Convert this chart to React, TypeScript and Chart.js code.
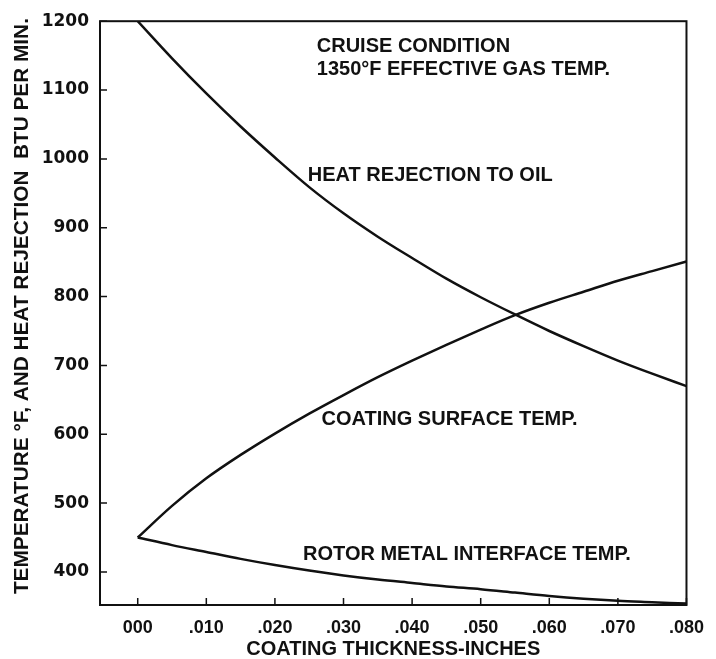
import React, { useEffect, useRef } from "react";
import { Chart, registerables } from "chart.js";

Chart.register(...registerables);

// Coating thickness (inches)
const thickness = [0, 0.005, 0.01, 0.015, 0.02, 0.025, 0.03, 0.035, 0.04, 0.045, 0.05, 0.055, 0.06, 0.065, 0.07, 0.075, 0.08];
// Heat rejection to oil, BTU per min
const heatRejection = [1200, 1146, 1095, 1047, 1002, 959, 921, 887, 856, 826, 799, 774, 750, 728, 707, 688, 670];
// Coating surface temperature, °F
const coatingSurface = [450, 496, 536, 570, 601, 630, 657, 683, 707, 730, 752, 773, 791, 807, 823, 837, 851];
// Rotor metal interface temperature, °F
const rotorInterface = [450, 439, 429, 419, 410, 402, 395, 389, 384, 379, 375, 370, 365, 361, 358, 356, 354];

const xTickValues = [0, 0.01, 0.02, 0.03, 0.04, 0.05, 0.06, 0.07, 0.08];
const xTickLabels = ["000", ".010", ".020", ".030", ".040", ".050", ".060", ".070", ".080"];
const yTickValues = [400, 500, 600, 700, 800, 900, 1000, 1100, 1200];

const noteLines = [
  "CRUISE CONDITION",
  "1350°F EFFECTIVE GAS TEMP.",
  "HEAT REJECTION TO OIL",
  "COATING SURFACE TEMP.",
  "ROTOR METAL INTERFACE TEMP.",
];

const xTitle = "COATING THICKNESS-INCHES";
const yTitle = "TEMPERATURE °F, AND HEAT REJECTION  BTU PER MIN.";

const INK = "#111111";
const TEXT_FONT = "'Liberation Sans', Arial, sans-serif";

const framePlugin = {
  id: "frameAndTicks",
  afterDraw(chart: any) {
    const { ctx, chartArea } = chart;
    const xs = chart.scales.x;
    const ys = chart.scales.y;
    ctx.save();
    ctx.strokeStyle = INK;
    ctx.lineWidth = 2;
    ctx.strokeRect(chartArea.left, chartArea.top, chartArea.right - chartArea.left, chartArea.bottom - chartArea.top);
    ctx.lineWidth = 1.5;
    ctx.beginPath();
    for (const v of xTickValues) {
      const px = xs.getPixelForValue(v);
      ctx.moveTo(px, chartArea.bottom);
      ctx.lineTo(px, chartArea.bottom - 7);
    }
    for (const v of yTickValues) {
      const py = ys.getPixelForValue(v);
      ctx.moveTo(chartArea.left, py);
      ctx.lineTo(chartArea.left + 7, py);
    }
    ctx.stroke();

    // vertical axis title
    ctx.fillStyle = INK;
    ctx.font = `bold 20.8px ${TEXT_FONT}`;
    ctx.textAlign = "center";
    ctx.textBaseline = "middle";
    ctx.translate(22, (chartArea.top + chartArea.bottom) / 2 - 7);
    ctx.rotate(-Math.PI / 2);
    ctx.fillText(yTitle, 0, 0);
    ctx.restore();
  },
};

const notesPlugin = {
  id: "notes",
  afterDraw(chart: any) {
    const { ctx } = chart;
    const xs = chart.scales.x;
    const ys = chart.scales.y;
    // anchors in data coordinates: [x, y]
    const anchors: [number, number][] = [
      [0.0261, 1155],
      [0.0261, 1122],
      [0.0248, 968],
      [0.0268, 613],
      [0.0241, 418],
    ];
    ctx.save();
    ctx.fillStyle = INK;
    ctx.font = `bold 20px ${TEXT_FONT}`;
    ctx.textAlign = "left";
    ctx.textBaseline = "alphabetic";
    noteLines.forEach((t, i) => {
      const [ax, ay] = anchors[i];
      ctx.fillText(t, xs.getPixelForValue(ax), ys.getPixelForValue(ay));
    });
    ctx.restore();
  },
};

function makePoints(ys: number[]) {
  return thickness.map((x, i) => ({ x, y: ys[i] }));
}

export default function App() {
  const ref = useRef<HTMLCanvasElement | null>(null);

  useEffect(() => {
    if (!ref.current) return;
    const lineStyle = {
      borderColor: INK,
      borderWidth: 2.5,
      pointRadius: 0,
      tension: 0.4,
      cubicInterpolationMode: "monotone" as const,
      fill: false,
    };
    const chart = new Chart(ref.current, {
      type: "line",
      data: {
        datasets: [
          { label: "Heat rejection to oil", data: makePoints(heatRejection), ...lineStyle },
          { label: "Coating surface temp.", data: makePoints(coatingSurface), ...lineStyle },
          { label: "Rotor metal interface temp.", data: makePoints(rotorInterface), ...lineStyle },
        ],
      },
      options: {
        animation: false,
        responsive: false,
        devicePixelRatio: 1,
        layout: { padding: { top: 17, right: 29, left: 0, bottom: 0 } },
        plugins: {
          legend: { display: false },
          tooltip: { enabled: false },
        },
        scales: {
          x: {
            type: "linear",
            min: -0.0055,
            max: 0.08,
            grid: { display: false, drawTicks: false },
            border: { display: false },
            afterBuildTicks: (scale: any) => {
              scale.ticks = xTickValues.map((value) => ({ value }));
            },
            afterFit: (scale: any) => {
              scale.height = 54;
            },
            ticks: {
              autoSkip: false,
              maxRotation: 0,
              minRotation: 0,
              padding: 12,
              color: INK,
              font: { family: TEXT_FONT, size: 18, weight: "bold" },
              callback: (_v: any, i: number) => xTickLabels[i],
            },
            title: {
              display: true,
              text: xTitle,
              color: INK,
              padding: 0,
              font: { family: TEXT_FONT, size: 20, weight: "bold", lineHeight: 1 },
            },
          },
          y: {
            type: "linear",
            min: 352,
            max: 1200,
            grid: { display: false, drawTicks: false },
            border: { display: false },
            afterBuildTicks: (scale: any) => {
              scale.ticks = yTickValues.map((value) => ({ value }));
            },
            afterFit: (scale: any) => {
              scale.width = 100;
            },
            ticks: {
              autoSkip: false,
              padding: 11,
              color: INK,
              font: { family: "'DejaVu Sans', sans-serif", size: 17, weight: "bold" },
              callback: (v: any) => String(v),
            },
            title: { display: false },
          },
        },
      },
      plugins: [framePlugin, notesPlugin],
    });
    return () => chart.destroy();
  }, []);

  return (
    <div style={{ position: "fixed", left: 0, top: 0, width: 716, height: 659, background: "#fff" }}>
      <canvas ref={ref} width={716} height={659} style={{ width: 716, height: 659, display: "block" }} />
    </div>
  );
}
